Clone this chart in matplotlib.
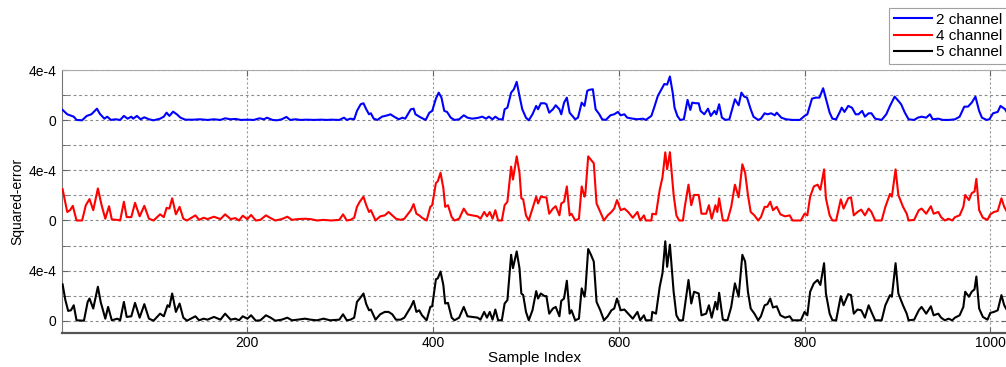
import numpy as np
import matplotlib.pyplot as plt

plt.rcParams['font.family'] = ['Liberation Sans', 'DejaVu Sans']

# squared error per sample in units of 1e-4
labels = ['2 channel', '4 channel', '5 channel']
colors = ['#0000ff', '#ff0000', '#000000']

blue_idx = [1, 6, 9, 13, 16, 22, 27, 32, 38, 41,
            46, 49, 53, 58, 63, 67, 71, 75, 77, 81,
            85, 89, 94, 99, 106, 110, 113, 116, 120, 124,
            128, 133, 142, 149, 157, 164, 171, 176, 182, 187,
            193, 200, 207, 213, 218, 221, 227, 232, 237, 242,
            246, 252, 257, 264, 272, 279, 286, 290, 299, 304,
            307, 311, 315, 318, 322, 325, 328, 331, 333, 336,
            340, 345, 351, 354, 358, 363, 367, 370, 376, 379,
            381, 384, 387, 392, 396, 399, 403, 406, 409, 412,
            415, 419, 423, 428, 433, 437, 442, 448, 453, 457,
            460, 464, 467, 471, 475, 477, 480, 484, 487, 490,
            493, 496, 500, 503, 507, 511, 513, 516, 520, 522,
            525, 529, 532, 536, 538, 541, 544, 547, 550, 553,
            556, 560, 563, 566, 568, 572, 575, 579, 582, 586,
            591, 595, 599, 602, 606, 609, 615, 620, 626, 629,
            635, 638, 642, 645, 649, 652, 655, 658, 660, 663,
            666, 670, 674, 677, 679, 683, 686, 688, 692, 696,
            699, 703, 705, 708, 711, 715, 719, 725, 729, 732,
            735, 738, 742, 745, 750, 753, 757, 760, 764, 768,
            770, 775, 780, 787, 795, 800, 803, 808, 812, 816,
            820, 823, 827, 830, 834, 838, 840, 843, 847, 851,
            855, 858, 862, 865, 869, 872, 876, 883, 888, 892,
            897, 901, 904, 908, 912, 918, 922, 926, 931, 935,
            938, 944, 949, 956, 962, 967, 972, 976, 980, 984,
            988, 991, 996, 999, 1003, 1008, 1011, 1016, 1018]
blue_err = [0.83, 0.48, 0.40, 0.29, 0.03, 0.0, 0.35, 0.48, 0.93, 0.53,
            0.13, 0.29, 0.03, 0.08, 0.03, 0.35, 0.13, 0.29, 0.13, 0.35,
            0.08, 0.24, 0.08, 0.0, 0.13, 0.29, 0.61, 0.35, 0.69, 0.48,
            0.21, 0.05, 0.05, 0.08, 0.03, 0.08, 0.03, 0.16, 0.08, 0.11,
            0.03, 0.05, 0.03, 0.16, 0.08, 0.21, 0.03, 0.0, 0.08, 0.27,
            0.03, 0.08, 0.03, 0.05, 0.03, 0.05, 0.03, 0.05, 0.03, 0.21,
            0.03, 0.13, 0.08, 0.75, 1.28, 1.36, 0.88, 0.48, 0.56, 0.13,
            0.03, 0.29, 0.40, 0.48, 0.29, 0.08, 0.21, 0.13, 0.88, 0.93,
            0.48, 0.35, 0.21, 0.03, 0.61, 0.75, 1.73, 2.21, 1.81, 0.75,
            0.67, 0.21, 0.03, 0.08, 0.40, 0.21, 0.13, 0.19, 0.29, 0.13,
            0.29, 0.08, 0.29, 0.08, 0.08, 0.88, 1.01, 2.21, 2.48, 3.07,
            1.95, 0.88, 0.21, 0.0, 0.48, 1.15, 0.88, 1.36, 1.36, 1.28,
            0.61, 0.88, 1.20, 0.88, 0.48, 1.41, 1.81, 0.61, 0.35, 0.08,
            0.21, 1.41, 1.15, 2.35, 2.43, 2.48, 0.88, 0.48, 0.08, 0.03,
            0.40, 0.48, 0.67, 0.40, 0.48, 0.21, 0.13, 0.08, 0.13, 0.03,
            0.35, 1.01, 1.95, 2.35, 2.90, 2.85, 3.50, 2.20, 1.01, 0.35,
            0.03, 0.08, 1.63, 0.83, 1.41, 1.36, 1.36, 0.75, 0.48, 0.93,
            0.35, 0.75, 0.48, 1.28, 0.21, 0.03, 0.08, 1.68, 1.20, 2.21,
            1.89, 1.81, 0.88, 0.29, 0.03, 0.13, 0.56, 0.48, 0.56, 0.40,
            0.61, 0.21, 0.08, 0.03, 0.03, 0.35, 0.48, 1.73, 1.81, 1.81,
            2.56, 1.73, 0.61, 0.13, 0.08, 0.67, 1.01, 0.67, 1.15, 1.01,
            0.48, 0.48, 0.75, 0.29, 0.56, 0.56, 0.13, 0.03, 0.48, 1.15,
            1.89, 1.55, 1.28, 0.61, 0.08, 0.03, 0.21, 0.29, 0.21, 0.48,
            0.08, 0.13, 0.03, 0.03, 0.08, 0.29, 1.09, 1.09, 1.41, 1.89,
            0.75, 0.21, 0.03, 0.08, 0.56, 0.67, 1.15, 0.88, 0.61]

red_idx = [1, 6, 9, 12, 16, 22, 26, 30, 34, 39,
           43, 47, 51, 54, 60, 63, 67, 70, 75, 79,
           84, 89, 94, 99, 106, 110, 113, 116, 119, 123,
           127, 131, 135, 144, 148, 153, 157, 164, 171, 176,
           182, 187, 191, 195, 200, 204, 209, 214, 220, 225,
           230, 237, 243, 248, 254, 262, 268, 275, 282, 290,
           299, 303, 307, 311, 315, 318, 321, 325, 328, 331,
           333, 338, 343, 348, 352, 356, 360, 365, 369, 376,
           379, 382, 385, 388, 393, 397, 399, 403, 405, 408,
           411, 413, 416, 420, 423, 428, 433, 437, 442, 448,
           451, 455, 458, 461, 464, 467, 470, 474, 477, 480,
           484, 486, 490, 493, 495, 497, 500, 503, 507, 511,
           513, 516, 520, 522, 525, 529, 532, 536, 538, 541,
           544, 547, 549, 553, 557, 560, 563, 564, 567, 570,
           573, 576, 580, 584, 588, 592, 595, 598, 602, 606,
           610, 615, 620, 623, 627, 629, 635, 636, 640, 644,
           647, 650, 652, 655, 659, 662, 665, 669, 671, 675,
           678, 681, 686, 689, 694, 697, 700, 704, 706, 708,
           712, 717, 721, 725, 729, 733, 736, 739, 742, 746,
           750, 753, 757, 760, 763, 766, 770, 774, 779, 784,
           787, 793, 796, 800, 803, 806, 810, 814, 817, 821,
           823, 827, 830, 834, 839, 842, 847, 850, 853, 857,
           861, 865, 869, 872, 876, 883, 887, 892, 894, 898,
           901, 906, 910, 912, 918, 923, 926, 931, 936, 939,
           944, 947, 951, 955, 959, 962, 967, 971, 973, 977,
           980, 983, 985, 988, 992, 997, 1000, 1004, 1008, 1012,
           1015, 1018]
red_err = [2.50, 0.68, 0.82, 1.17, 0.0, 0.0, 1.22, 1.71, 0.82, 2.56,
           1.22, 0.14, 1.14, 0.08, 0.05, 0.0, 1.50, 0.27, 0.27, 1.41,
           0.33, 1.17, 0.14, 0.0, 0.49, 0.27, 1.01, 0.95, 1.77, 0.49,
           1.09, 0.14, 0.0, 0.41, 0.05, 0.22, 0.11, 0.30, 0.11, 0.49,
           0.11, 0.19, 0.0, 0.38, 0.11, 0.44, 0.0, 0.05, 0.41, 0.19,
           0.0, 0.11, 0.30, 0.05, 0.11, 0.14, 0.11, 0.0, 0.05, 0.0,
           0.05, 0.49, 0.0, 0.05, 0.22, 1.09, 1.50, 1.90, 1.22, 0.68,
           0.82, 0.0, 0.33, 0.41, 0.68, 0.41, 0.14, 0.05, 0.14, 0.82,
           1.31, 0.54, 0.41, 0.22, 0.0, 1.09, 1.22, 2.99, 3.13, 3.81,
           2.59, 1.09, 1.22, 0.27, 0.0, 0.14, 0.95, 0.49, 0.41, 0.33,
           0.14, 0.68, 0.33, 0.68, 0.14, 0.82, 0.0, 0.0, 1.22, 1.50,
           4.30, 3.27, 5.12, 3.81, 1.77, 1.69, 0.41, 0.0, 0.95, 1.90,
           1.36, 1.90, 1.85, 1.85, 0.54, 0.95, 1.14, 0.41, 1.36, 1.50,
           2.72, 0.41, 0.54, 0.0, 0.14, 2.72, 1.90, 2.18, 5.12, 4.84,
           4.57, 1.36, 0.68, 0.0, 0.41, 0.68, 0.95, 1.63, 0.82, 0.95,
           0.68, 0.22, 0.68, 0.0, 0.41, 0.0, 0.0, 0.54, 0.49, 2.45,
           3.45, 5.44, 4.10, 5.45, 2.04, 0.41, 0.0, 0.0, 1.09, 2.86,
           1.22, 2.04, 2.04, 0.54, 0.54, 1.22, 0.14, 1.22, 0.68, 1.77,
           0.0, 0.0, 1.09, 2.86, 1.85, 4.49, 3.81, 2.04, 0.68, 0.41,
           0.0, 0.27, 1.09, 1.09, 1.50, 0.82, 1.09, 0.49, 0.33, 0.41,
           0.0, 0.0, 0.0, 0.54, 0.41, 1.90, 2.72, 2.86, 2.45, 4.08,
           1.77, 0.41, 0.0, 0.0, 1.69, 0.95, 1.77, 1.85, 0.41, 0.68,
           0.87, 0.41, 0.95, 0.68, 0.0, 0.0, 1.09, 2.12, 1.90, 4.08,
           2.04, 1.09, 0.54, 0.0, 0.05, 0.82, 0.95, 0.54, 1.14, 0.54,
           0.68, 0.27, 0.0, 0.14, 0.0, 0.27, 0.41, 1.09, 2.04, 1.63,
           2.18, 2.31, 3.32, 0.82, 0.22, 0.05, 0.49, 0.68, 0.76, 1.77,
           1.09, 0.68]

black_idx = [1, 4, 7, 10, 13, 16, 24, 28, 30, 34,
             39, 42, 47, 50, 54, 60, 63, 67, 70, 75,
             79, 84, 89, 94, 99, 106, 110, 114, 116, 119,
             123, 127, 131, 135, 144, 148, 153, 157, 164, 171,
             176, 182, 187, 191, 195, 200, 204, 209, 214, 220,
             225, 230, 237, 243, 248, 254, 262, 268, 275, 282,
             289, 299, 303, 307, 311, 315, 318, 321, 325, 328,
             331, 333, 338, 343, 348, 352, 356, 360, 365, 369,
             376, 379, 382, 385, 388, 393, 397, 399, 403, 405,
             408, 411, 413, 416, 420, 423, 428, 433, 437, 442,
             448, 451, 455, 458, 461, 464, 467, 470, 474, 477,
             480, 484, 486, 490, 493, 495, 497, 500, 503, 507,
             511, 513, 516, 520, 522, 525, 529, 532, 536, 538,
             541, 544, 547, 549, 553, 557, 560, 563, 564, 567,
             570, 573, 576, 580, 584, 588, 592, 595, 598, 602,
             606, 610, 615, 620, 623, 627, 629, 635, 636, 640,
             644, 647, 650, 652, 655, 659, 662, 665, 669, 671,
             675, 678, 681, 686, 689, 694, 697, 700, 704, 706,
             708, 712, 717, 721, 725, 729, 733, 736, 739, 742,
             746, 750, 753, 757, 760, 763, 766, 770, 774, 779,
             784, 787, 793, 796, 800, 803, 806, 810, 814, 817,
             821, 823, 827, 830, 834, 839, 842, 847, 850, 853,
             857, 861, 865, 869, 872, 876, 883, 887, 892, 894,
             898, 901, 906, 910, 912, 918, 923, 926, 931, 936,
             939, 944, 947, 951, 955, 959, 962, 967, 971, 973,
             977, 980, 983, 985, 988, 992, 997, 1000, 1004, 1008,
             1012, 1015, 1018]
black_err = [2.90, 1.64, 0.78, 0.83, 1.23, 0.03, 0.0, 1.50, 1.77, 0.97,
             2.71, 1.50, 0.16, 1.10, 0.03, 0.16, 0.03, 1.50, 0.30, 0.35,
             1.42, 0.24, 1.32, 0.16, 0.0, 0.56, 0.35, 1.23, 1.10, 2.17,
             0.70, 1.37, 0.24, 0.0, 0.35, 0.03, 0.16, 0.08, 0.30, 0.08,
             0.56, 0.08, 0.16, 0.03, 0.35, 0.16, 0.43, 0.0, 0.03, 0.43,
             0.24, 0.0, 0.08, 0.24, 0.03, 0.08, 0.16, 0.08, 0.03, 0.16,
             0.03, 0.08, 0.51, 0.03, 0.08, 0.24, 1.50, 1.77, 2.17, 1.32,
             0.83, 0.89, 0.08, 0.51, 0.70, 0.70, 0.51, 0.08, 0.08, 0.24,
             1.10, 1.58, 0.70, 0.83, 0.43, 0.03, 1.10, 1.15, 3.30, 3.38,
             3.92, 2.85, 1.37, 1.42, 0.24, 0.03, 0.24, 1.10, 0.35, 0.30,
             0.24, 0.08, 0.70, 0.24, 0.70, 0.08, 0.89, 0.03, 0.03, 1.37,
             1.64, 5.26, 4.19, 5.53, 4.19, 2.17, 2.04, 0.70, 0.03, 0.83,
             2.36, 1.77, 2.17, 1.96, 1.96, 0.56, 0.97, 1.10, 0.35, 1.58,
             1.77, 3.19, 0.56, 0.83, 0.03, 0.16, 2.58, 1.91, 2.44, 5.72,
             5.26, 4.72, 1.50, 0.83, 0.03, 0.35, 0.83, 0.97, 1.77, 0.83,
             0.89, 0.56, 0.16, 0.70, 0.03, 0.43, 0.03, 0.03, 0.70, 0.56,
             2.71, 3.79, 6.34, 4.30, 6.07, 2.31, 0.43, 0.03, 0.03, 1.10,
             3.25, 1.37, 2.31, 2.17, 0.43, 0.56, 1.23, 0.24, 1.50, 0.89,
             2.23, 0.08, 0.03, 1.10, 2.98, 1.91, 5.26, 4.72, 2.31, 0.97,
             0.56, 0.03, 0.35, 1.23, 1.32, 1.77, 1.05, 1.15, 0.43, 0.24,
             0.35, 0.03, 0.03, 0.03, 0.70, 0.43, 2.31, 2.98, 3.25, 2.85,
             4.59, 2.17, 0.56, 0.03, 0.03, 1.96, 1.23, 2.12, 2.04, 0.56,
             0.89, 0.83, 0.24, 1.23, 0.70, 0.03, 0.03, 1.23, 2.04, 1.91,
             4.59, 2.17, 1.23, 0.56, 0.03, 0.08, 0.83, 1.10, 0.56, 1.15,
             0.43, 0.56, 0.24, 0.03, 0.16, 0.03, 0.24, 0.43, 1.10, 2.31,
             1.91, 2.31, 2.50, 3.52, 0.97, 0.30, 0.08, 0.62, 0.70, 0.83,
             2.04, 1.23, 0.83]

# each trace sits on its own baseline (top, middle, bottom), 8e-4 apart
offsets = [16, 8, 0]
yticks = [0, 4, 8, 12, 16, 20]
ytick_labels = ['0', '4e-4', '0', '4e-4', '0', '4e-4']
xticks = [200, 400, 600, 800, 1000]

fig = plt.figure(figsize=(10.06, 3.67), dpi=100)
ax = fig.add_axes([0.0613, 0.0921, 0.9397, 0.7166])

series = [(blue_idx, blue_err), (red_idx, red_err), (black_idx, black_err)]
for (idx, err), off, c, lab in zip(series, offsets, colors, labels):
    y = (np.array(err) + off) * 1e-4
    ax.plot(idx, y, color=c, lw=1.5, label=lab, zorder=3)

ax.set_xlim(0, 1018)
ax.set_ylim(-1e-4, 20e-4)
ax.set_xticks(xticks)
ax.set_yticks(np.array(yticks) * 1e-4)
ax.set_yticklabels(ytick_labels)
ax.set_yticks(np.arange(2, 20, 4) * 1e-4, minor=True)

ax.grid(True, axis='y', which='both', color='#8a8a8a', ls=(0, (2.5, 2.5)), lw=0.8)
ax.grid(True, axis='x', which='major', color='#9a9a9a', ls=(0, (2, 2)), lw=0.8)
ax.tick_params(axis='both', which='both', direction='in', top=True, right=True,
               color='#666666', labelsize=10, length=4)
ax.tick_params(axis='x', pad=2)
ax.tick_params(axis='y', pad=4)

for s in ['left', 'right']:
    ax.spines[s].set_color('#777777')
ax.spines['top'].set_color('#aaaaaa')
ax.spines['bottom'].set_color('#555555')
ax.spines['bottom'].set_linewidth(1.6)

ax.set_xlabel('Sample Index', fontsize=11, labelpad=1)
ax.set_ylabel('Squared-error', fontsize=10, labelpad=3)

# legend box runs past the right edge of the figure, as in the original
leg = fig.legend(loc='upper left', bbox_to_anchor=(889 / 1006, 1 - 8 / 367),
                 fontsize=11, frameon=True, fancybox=False, edgecolor='#888888',
                 handlelength=2.5, handletextpad=0.3, labelspacing=0.16,
                 borderpad=0.3, borderaxespad=0)
leg.get_frame().set_linewidth(0.8)

fig.savefig('out.png', dpi=100)
